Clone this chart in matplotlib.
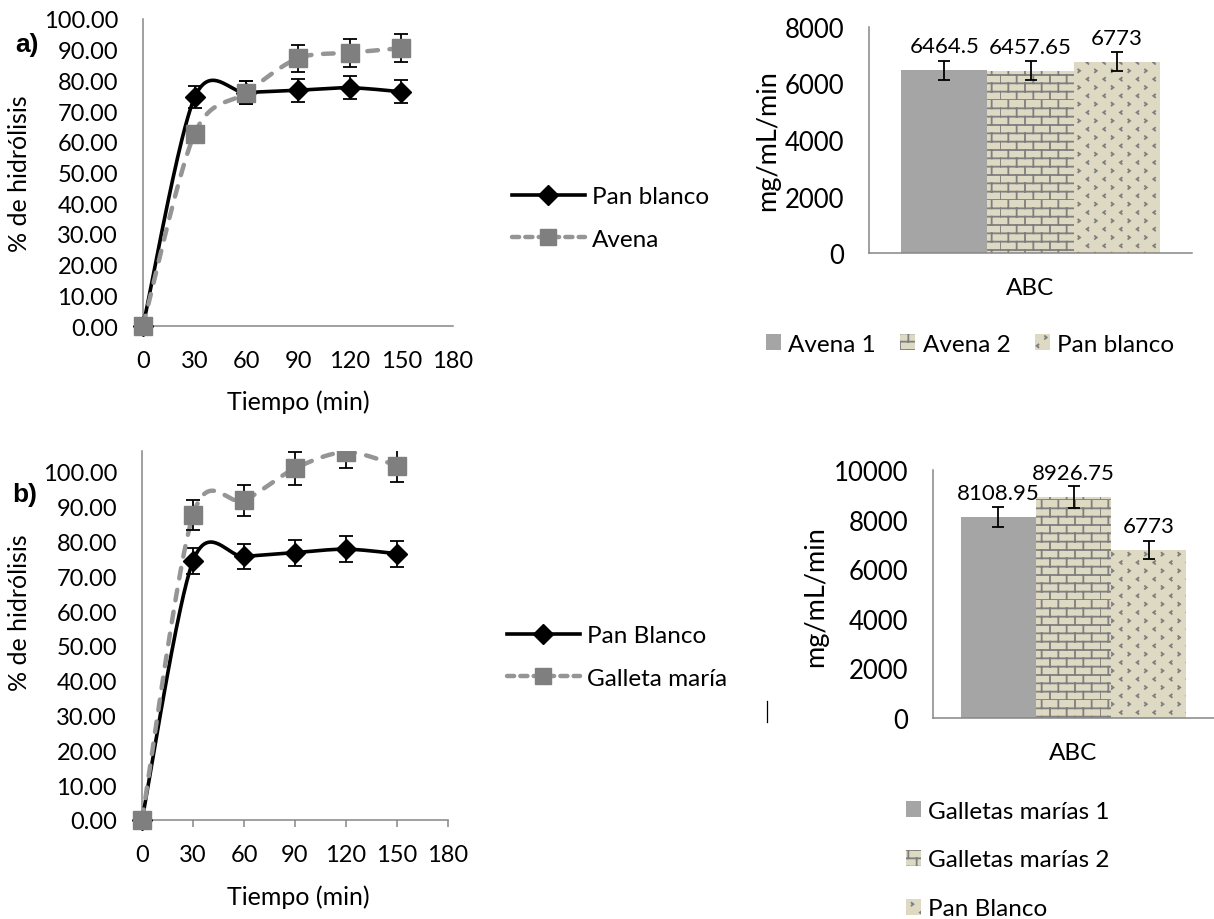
import warnings
import numpy as np
import matplotlib
matplotlib.use('Agg')
import matplotlib.pyplot as plt
from matplotlib import hatch as mhatch
from matplotlib.path import Path
from matplotlib.lines import Line2D
from matplotlib.patches import Rectangle

warnings.filterwarnings('ignore')

# ---- datos ----
tiempo = [0, 30, 60, 90, 120, 150]

pan_a = [0, 74.5, 76.0, 76.8, 77.6, 76.3]
pan_a_err = [0, 3.6, 3.8, 3.8, 3.8, 3.8]
avena = [0, 62.7, 76.0, 87.2, 89.0, 90.5]
avena_err = [0, 2.5, 3.8, 4.4, 4.5, 4.5]

pan_b = [0, 74.4, 75.7, 76.8, 77.8, 76.5]
pan_b_err = [0, 3.7, 3.7, 3.7, 3.8, 3.7]
galleta = [0, 87.6, 91.8, 101.0, 105.7, 101.8]
galleta_err = [0, 4.3, 4.5, 4.8, 4.5, 4.8]

abc_a_labels = ['Avena 1', 'Avena 2', 'Pan blanco']
abc_a = [6464.5, 6457.65, 6773]
abc_a_err = [335, 330, 337]
abc_a_txt = ['6464.5', '6457.65', '6773']

abc_b_labels = ['Galletas marías 1', 'Galletas marías 2', 'Pan Blanco']
abc_b = [8108.95, 8926.75, 6773]
abc_b_err = [410, 445, 345]
abc_b_txt = ['8108.95', '8926.75', '6773']


# ---- tramas tipo Excel (ladrillo y puntitos) ----
class BrickHatch(mhatch.HatchPatternBase):
    def __init__(self, hatch, density):
        self.rows = 12 if 'B' in hatch else 0
        self.cols = 6
        self.num_vertices = 2 * (self.rows + self.rows * self.cols)

    def set_vertices_and_codes(self, vertices, codes):
        segs = []
        h = 1.0 / self.rows
        for r in range(self.rows):
            y0 = r * h
            segs.append([(0, y0), (1, y0)])
            off = 0.5 / self.cols if r % 2 else 0.0
            for c in range(self.cols):
                x = c / self.cols + off
                segs.append([(x, y0), (x, y0 + h)])
        vertices[:] = np.array(segs).reshape(-1, 2)
        codes[0::2] = Path.MOVETO
        codes[1::2] = Path.LINETO


class ChevronHatch(mhatch.HatchPatternBase):
    def __init__(self, hatch, density):
        self.rows = 12 if 'C' in hatch else 0
        self.cols = 6
        self.num_vertices = 3 * self.rows * self.cols

    def set_vertices_and_codes(self, vertices, codes):
        pts = []
        w, hh = 0.009, 0.014
        for r in range(self.rows):
            yc = (r + 0.5) / self.rows
            off = 0.5 / self.cols if r % 2 else 0.0
            d = 1 if r % 2 else -1
            for c in range(self.cols):
                xc = (c + 0.25) / self.cols + off
                pts += [(xc - d * w, yc + hh), (xc + d * w, yc), (xc - d * w, yc - hh)]
        vertices[:] = np.array(pts)
        codes[0::3] = Path.MOVETO
        codes[1::3] = Path.LINETO
        codes[2::3] = Path.LINETO


mhatch._hatch_types.append(BrickHatch)
mhatch._hatch_types.append(ChevronHatch)

plt.rcParams['font.family'] = ['Lato', 'DejaVu Sans']
plt.rcParams['hatch.linewidth'] = 1.3

GRIS_EJE = '#868686'
GRIS_SOLIDO = '#a5a5a5'
CREMA = '#ddd9c3'
GRIS_TRAMA = '#7f7f7f'
GRIS_LINEA = '#959595'
GRIS_MARCA = '#7f7f7f'
W, H = 1214, 920


def curva_suave(x, y, n=40):
    x = np.asarray(x, float)
    y = np.asarray(y, float)
    px = np.concatenate([[x[0]], x, [x[-1]]])
    py = np.concatenate([[y[0]], y, [y[-1]]])
    t = np.linspace(0, 1, n)[:, None]
    out = []
    for i in range(len(x) - 1):
        p0 = np.array([px[i], py[i]])
        p1 = np.array([px[i + 1], py[i + 1]])
        p2 = np.array([px[i + 2], py[i + 2]])
        p3 = np.array([px[i + 3], py[i + 3]])
        c1 = p1 + (p2 - p0) / 6.5
        c2 = p2 - (p3 - p1) / 6.5
        b = ((1 - t) ** 3) * p1 + 3 * ((1 - t) ** 2) * t * c1 + 3 * (1 - t) * t ** 2 * c2 + t ** 3 * p2
        out.append(b)
    out = np.vstack(out)
    return out[:, 0], out[:, 1]


def eje_px(left, top, right, bottom):
    return fig.add_axes([left / W, 1 - bottom / H, (right - left) / W, (bottom - top) / H])


def estilo(ax):
    for s in ['top', 'right']:
        ax.spines[s].set_visible(False)
    for s in ['left', 'bottom']:
        ax.spines[s].set_color(GRIS_EJE)
        ax.spines[s].set_linewidth(1.1)


def grafico_lineas(ax, serie1, err1, serie2, err2, ytop, xticks_len):
    estilo(ax)
    clip = Rectangle((-0.3, -0.3), 1.6, 1.3, transform=ax.transAxes)
    xs, ys = curva_suave(tiempo, serie1)
    l1, = ax.plot(xs, ys, color='black', lw=2.6, solid_capstyle='round', zorder=3)
    e1 = ax.errorbar(tiempo, serie1, yerr=err1, fmt='D', color='black', ms=10,
                     capsize=5, elinewidth=1.3, capthick=1.3, zorder=4)
    xs, ys = curva_suave(tiempo, serie2)
    l2, = ax.plot(xs, ys, color=GRIS_LINEA, lw=3.2, ls=(0, (2.4, 2.6)),
                  dash_capstyle='round', zorder=5)
    e2 = ax.errorbar(tiempo, serie2, yerr=err2, fmt='s', color=GRIS_MARCA, ms=13,
                     ecolor='black', capsize=5, elinewidth=1.3, capthick=1.3, zorder=6)
    for art in [l1, l2] + list(e1.lines[0:1]) + list(e1.lines[1]) + list(e1.lines[2]) \
            + list(e2.lines[0:1]) + list(e2.lines[1]) + list(e2.lines[2]):
        art.set_clip_path(clip)
    ax.set_xlim(0, 180)
    ax.set_ylim(0, ytop)
    ax.set_xticks(range(0, 181, 30))
    ax.set_yticks(range(0, 101, 10))
    ax.set_yticklabels([f'{v:.2f}' for v in range(0, 101, 10)])
    ax.tick_params(axis='y', length=0, pad=18, labelsize=17)
    ax.tick_params(axis='x', length=xticks_len, width=1.1, color=GRIS_EJE,
                   pad=17 - xticks_len, labelsize=17)


def grafico_barras(ax, vals, errs, labels, textos, ymax, yticks):
    estilo(ax)
    w = 0.267
    pos = [-w, 0, w]
    estilos = [dict(color=GRIS_SOLIDO),
               dict(facecolor=CREMA, edgecolor=GRIS_TRAMA, hatch='B', linewidth=0),
               dict(facecolor=CREMA, edgecolor=GRIS_TRAMA, hatch='C', linewidth=0)]
    barras = []
    for p, v, e, lab, st in zip(pos, vals, errs, labels, estilos):
        b = ax.bar(p, v, w, yerr=e, label=lab,
                   error_kw=dict(capsize=4.5, elinewidth=1.3, capthick=1.3, ecolor='black'),
                   **st)
        barras.append(b)
    for p, v, t in zip(pos, vals, textos):
        ax.annotate(t, (p, v), xytext=(0, 13), textcoords='offset points',
                    ha='center', va='baseline', fontsize=16)
    ax.set_xlim(-0.5, 0.5)
    ax.set_ylim(0, ymax)
    ax.set_yticks(yticks)
    ax.set_xticks([0])
    ax.set_xticklabels(['ABC'])
    ax.tick_params(axis='y', length=0, pad=18, labelsize=18.5)
    ax.tick_params(axis='x', length=0, pad=17, labelsize=17.5)
    return barras


fig = plt.figure(figsize=(W / 100, H / 100), dpi=100)

# a) lineas
ax1 = eje_px(143, 20, 453, 327)
grafico_lineas(ax1, pan_a, pan_a_err, avena, avena_err, 100, 0)
ax1.set_xlabel('Tiempo (min)', fontsize=18, va='center')
ax1.xaxis.set_label_coords(0.5, -0.244)
ax1.set_ylabel('% de hidrólisis', fontsize=18, va='center')
ax1.yaxis.set_label_coords(-0.397, 0.5)

# b) lineas
ax3 = eje_px(142, 452, 448, 821)
grafico_lineas(ax3, pan_b, pan_b_err, galleta, galleta_err, 106, 5)
ax3.set_xlabel('Tiempo (min)', fontsize=18, va='center')
ax3.xaxis.set_label_coords(0.51, -0.206)
ax3.set_ylabel('% de hidrólisis', fontsize=18, va='center')
ax3.yaxis.set_label_coords(-0.399, 0.564)

# leyendas de lineas
h_pan = Line2D([], [], color='black', lw=2.6, marker='D', ms=10)
h_gris = Line2D([], [], color=GRIS_LINEA, lw=3.2, ls=(0, (1.6, 1.4)), dash_capstyle='round',
                marker='s', mfc=GRIS_MARCA, mec=GRIS_MARCA, ms=12)
fig.legend([h_pan, h_gris], ['Pan blanco', 'Avena'], loc='center left',
           bbox_to_anchor=(512 / W, 1 - 219 / H), frameon=False, fontsize=17.5,
           handlelength=3.0, handletextpad=0.3, labelspacing=0.9,
           borderpad=0, borderaxespad=0)
fig.legend([h_pan, h_gris], ['Pan Blanco', 'Galleta maría'], loc='center left',
           bbox_to_anchor=(507 / W, 1 - 658 / H), frameon=False, fontsize=17.5,
           handlelength=3.0, handletextpad=0.3, labelspacing=0.9,
           borderpad=0, borderaxespad=0)

# a) barras
ax2 = eje_px(869, 28, 1192, 254)
b2 = grafico_barras(ax2, abc_a, abc_a_err, abc_a_labels, abc_a_txt, 8000,
                    range(0, 8001, 2000))
ax2.set_ylabel('mg/mL/min', fontsize=19.5, va='center')
ax2.yaxis.set_label_coords(-0.313, 0.504)
fig.legend(handles=b2, loc='center left', bbox_to_anchor=(766 / W, 1 - 345 / H),
           ncol=3, frameon=False, fontsize=17.5, handlelength=0.62, handleheight=0.62,
           handletextpad=0.3, columnspacing=1.0, borderpad=0, borderaxespad=0)

# b) barras
ax4 = eje_px(933, 471, 1214, 719)
b4 = grafico_barras(ax4, abc_b, abc_b_err, abc_b_labels, abc_b_txt, 10000,
                    range(0, 10001, 2000))
ax4.set_ylabel('mg/mL/min', fontsize=19.5, va='center')
ax4.yaxis.set_label_coords(-0.416, 0.492)
fig.legend(handles=b4, loc='center left', bbox_to_anchor=(906 / W, 1 - 861 / H),
           ncol=1, frameon=False, fontsize=17.5, handlelength=0.62, handleheight=0.62,
           handletextpad=0.3, labelspacing=1.15, borderpad=0, borderaxespad=0)

fig.text(27 / W, 1 - 45 / H, 'a)', ha='center', va='center', fontsize=19,
         fontweight='bold', family='Liberation Sans')
fig.text(25 / W, 1 - 495 / H, 'b)', ha='center', va='center', fontsize=19,
         fontweight='bold', family='Liberation Sans')

# trazo suelto junto al segundo grafico de barras
fig.add_artist(Line2D([767 / W, 767 / W], [1 - 702 / H, 1 - 723 / H], color='black', lw=0.9))

fig.savefig('out.png', dpi=100)
